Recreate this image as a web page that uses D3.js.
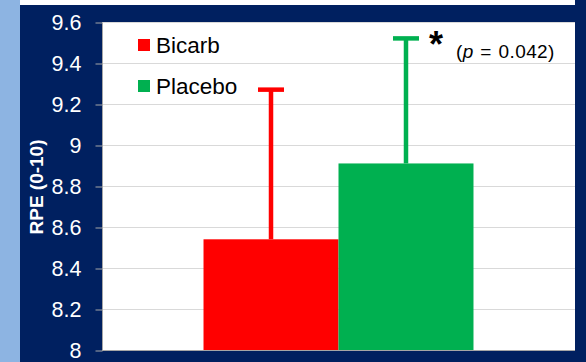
<!DOCTYPE html>
<html>
<head>
<meta charset="utf-8">
<script src="https://cdn.jsdelivr.net/npm/d3@7"></script>
<style>
  html, body { margin: 0; padding: 0; background: #002060; }
  svg { display: block; font-family: "Liberation Sans", Arial, sans-serif; }
</style>
</head>
<body>
<svg id="chart" width="586" height="362"></svg>
<script>
// --- data ---
const categories = ['RPE'];
const series = ['Bicarb', 'Placebo'];
const means = [8.54, 8.91];
const sds = [0.73, 0.61];
const colours = ['#FF0000', '#00B050'];
const yTicks = [8, 8.2, 8.4, 8.6, 8.8, 9, 9.2, 9.4, 9.6];
const yTickLabels = ['8', '8.2', '8.4', '8.6', '8.8', '9', '9.2', '9.4', '9.6'];
const yTitle = 'RPE (0-10)';
const sigLabel = '*';

const W = 586, H = 362;
const plot = { left: 102, right: 575, top: 22, bottom: 350 };

const svg = d3.select('#chart');

// backgrounds
svg.append('rect').attr('width', W).attr('height', H).attr('fill', '#002060');
svg.append('rect').attr('width', 20).attr('height', H).attr('fill', '#8DB4E2');
svg.append('rect').attr('x', 20).attr('width', 555).attr('height', 5).attr('fill', '#ffffff');
svg.append('rect')
  .attr('x', plot.left).attr('y', plot.top)
  .attr('width', plot.right - plot.left).attr('height', plot.bottom - plot.top)
  .attr('fill', '#ffffff');

// scales
const y = d3.scaleLinear().domain([8, 9.6]).range([plot.bottom, plot.top]);
const x0 = d3.scaleBand().domain(categories).range([plot.left, plot.right])
  .paddingInner(0).paddingOuter(0.376);
const x1 = d3.scaleBand().domain(series).range([0, x0.bandwidth()]).padding(0);

// gridlines
svg.append('g').selectAll('line')
  .data(yTicks.slice(1))
  .enter().append('line')
  .attr('x1', plot.left).attr('x2', plot.right)
  .attr('y1', d => Math.round(y(d)) + 0.5).attr('y2', d => Math.round(y(d)) + 0.5)
  .attr('stroke', '#D9D9D9').attr('stroke-width', 1);

// y axis
const yAxis = d3.axisLeft(y)
  .tickValues(yTicks)
  .tickFormat((d, i) => yTickLabels[i])
  .tickSize(7)
  .tickPadding(14);
const ga = svg.append('g')
  .attr('transform', `translate(${plot.left + 0.5},0.5)`)
  .call(yAxis);
ga.select('.domain').attr('stroke', '#A6A6A6').attr('d', `M0,${plot.top}V${plot.bottom}`);
ga.selectAll('.tick line').attr('stroke', '#A6A6A6');
ga.selectAll('.tick text')
  .attr('fill', '#ffffff')
  .attr('font-size', '21.5px')
  .attr('font-family', '"Liberation Sans", Arial, sans-serif');

// x axis line
svg.append('line')
  .attr('x1', plot.left).attr('x2', plot.right)
  .attr('y1', plot.bottom + 0.5).attr('y2', plot.bottom + 0.5)
  .attr('stroke', '#A6A6A6');

// y title
svg.append('text')
  .attr('transform', `translate(42.5,${(plot.top + plot.bottom) / 2 + 1}) rotate(-90)`)
  .attr('text-anchor', 'middle')
  .attr('fill', '#ffffff')
  .attr('font-weight', 'bold')
  .attr('font-size', '19px')
  .text(yTitle);

// bars
const bars = svg.append('g');
series.forEach((s, i) => {
  const bx = x0(categories[0]) + x1(s);
  bars.append('rect')
    .attr('x', bx).attr('y', y(means[i]))
    .attr('width', x1.bandwidth()).attr('height', y(8) - y(means[i]))
    .attr('fill', colours[i]);
});

// error bars (upper only)
const errs = svg.append('g');
series.forEach((s, i) => {
  const cx = x0(categories[0]) + x1(s) + x1.bandwidth() / 2;
  const top = y(means[i] + sds[i]);
  errs.append('line')
    .attr('x1', cx).attr('x2', cx)
    .attr('y1', y(means[i])).attr('y2', top)
    .attr('stroke', colours[i]).attr('stroke-width', 4.5);
  errs.append('line')
    .attr('x1', cx - 13).attr('x2', cx + 13)
    .attr('y1', top).attr('y2', top)
    .attr('stroke', colours[i]).attr('stroke-width', 4.5);
});

// significance annotation on placebo
const pcx = x0(categories[0]) + x1('Placebo') + x1.bandwidth() / 2;
const ptop = y(means[1] + sds[1]);
svg.append('text')
  .attr('x', pcx + 23).attr('y', ptop + 19)
  .attr('font-size', '36px').attr('font-weight', 'bold')
  .attr('fill', '#000000')
  .text(sigLabel);
const pt = svg.append('text')
  .attr('x', pcx + 50).attr('y', ptop + 20)
  .attr('font-size', '19px')
  .attr('letter-spacing', '0.4px')
  .attr('word-spacing', '1px')
  .attr('fill', '#000000');
pt.append('tspan').text('(');
pt.append('tspan').attr('font-style', 'italic').text('p');
pt.append('tspan').text(' = 0.042)');

// legend
const legend = svg.append('g').attr('transform', 'translate(138,39)');
series.forEach((s, i) => {
  const g = legend.append('g').attr('transform', `translate(0,${i * 41})`);
  g.append('rect').attr('width', 12).attr('height', 12).attr('fill', colours[i]);
  g.append('text')
    .attr('x', 18).attr('y', 13.5)
    .attr('font-size', '22.5px')
    .attr('fill', '#000000')
    .text(s);
});
</script>
</body>
</html>
